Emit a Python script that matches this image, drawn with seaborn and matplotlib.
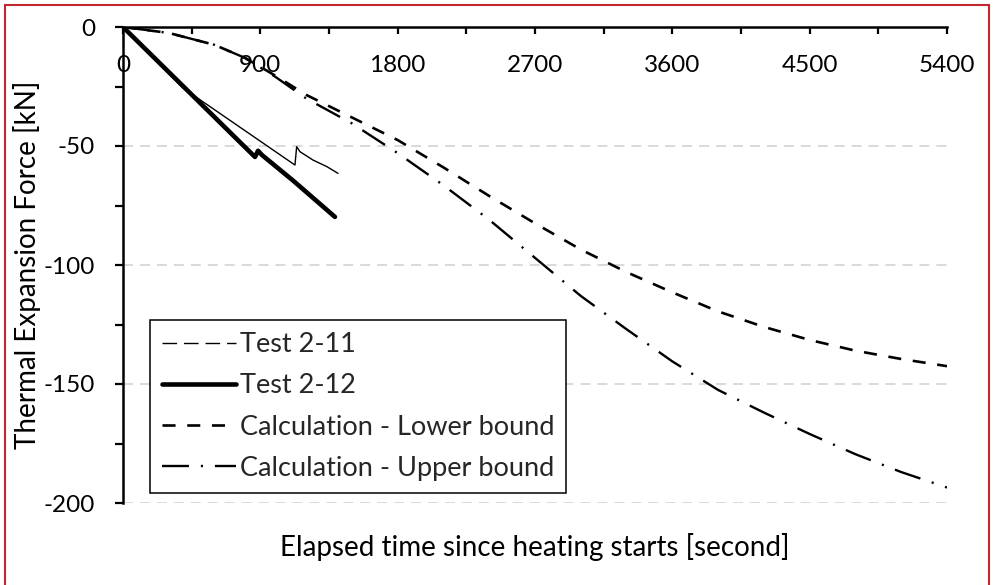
import matplotlib
matplotlib.use("Agg")
import matplotlib.pyplot as plt
import seaborn as sns
import pandas as pd
from matplotlib.lines import Line2D
from matplotlib.patches import Rectangle

# ---- data ----
t11_time = [0, 390, 1127, 1138, 1160, 1245, 1337, 1409]
t11_force = [0, -25.5, -58, -50.3, -52.4, -55.9, -58.7, -61.5]

t12_time = [0, 865, 885, 911, 1114, 1389]
t12_force = [0, -54.6, -52, -53.8, -64.5, -79.8]

calc_time = [0, 300, 600, 800, 1000, 1200, 1500, 1800, 2100, 2400, 2700,
             3000, 3300, 3600, 3900, 4200, 4500, 4800, 5100, 5400]
lower_force = [0, -2.5, -7.5, -13, -20.5, -28.5, -38, -47.5, -59, -71, -82.5,
               -93.5, -103, -111.5, -119.5, -126, -131.5, -136, -139.5, -142.5]
upper_force = [0, -2.5, -7.5, -13, -21, -30, -40.5, -53, -66.5, -81, -97,
               -113, -127, -140.5, -152.5, -162, -171, -179.5, -187, -193.5]

series_names = ["Test 2-11", "Test 2-12", "Calculation - Lower bound", "Calculation - Upper bound"]
x_ticks = [0, 900, 1800, 2700, 3600, 4500, 5400]
y_ticks = [0, -50, -100, -150, -200]
y_tick_labels = ["0", "-50", "-100", "-150", "-200"]

# ---- style ----
sns.set_theme(style="white")
plt.rcParams["font.family"] = ["Lato", "DejaVu Sans"]
plt.rcParams["axes.unicode_minus"] = False
plt.rcParams["lines.scale_dashes"] = False
FS_TICK = 17.5
FS_LAB = 20
FS_LEG = 19.5

fig = plt.figure(figsize=(9.93, 5.85), dpi=100)
ax = fig.add_axes([123 / 993, 1 - 503 / 585, (947 - 123) / 993, (503 - 27) / 585])

DASHED = (9.4, 8.4)
DASHDOT = (19.4, 8.6, 1.5, 8.6)
THIN_DASH = (10.5, 5.0)

sns.lineplot(x=t11_time, y=t11_force, ax=ax, color="black", lw=1.0,
             estimator=None, sort=False, legend=False)
sns.lineplot(x=t12_time, y=t12_force, ax=ax, color="black", lw=3.3,
             estimator=None, sort=False, legend=False, solid_capstyle="round")
sns.lineplot(x=calc_time, y=lower_force, ax=ax, color="black", lw=1.9,
             estimator=None, sort=False, legend=False)
ax.lines[-1].set_dashes(DASHED)
sns.lineplot(x=calc_time, y=upper_force, ax=ax, color="black", lw=1.7,
             estimator=None, sort=False, legend=False)
ax.lines[-1].set_dashes(DASHDOT)

# axes limits / spines
ax.set_xlim(0, 5400)
ax.set_ylim(-200, 0)
ax.spines["bottom"].set_position(("data", 0))
ax.spines["top"].set_visible(False)
ax.spines["right"].set_visible(False)
for s in ("bottom", "left"):
    ax.spines[s].set_linewidth(1.8)
    ax.spines[s].set_color("black")

ax.set_xticks(x_ticks)
ax.set_xticklabels([str(v) for v in x_ticks])
ax.set_xticks([450 + 900 * i for i in range(6)], minor=True)
ax.set_yticks(y_ticks)
ax.set_yticklabels(y_tick_labels)
ax.set_yticks([-25, -75, -125, -175], minor=True)

ax.tick_params(axis="x", which="both", direction="out", length=5, width=1.6,
               bottom=True, top=False, pad=15, labelsize=FS_TICK, colors="black")
ax.tick_params(axis="y", which="both", direction="out", length=6, width=1.6,
               left=True, right=False, pad=14, labelsize=FS_TICK, colors="black")

# grid
for yv in y_ticks[1:]:
    ax.axhline(yv, color="#d9d9d9", lw=1.4, dashes=(7.2, 5.0), zorder=0)

ax.set_xlabel("Elapsed time since heating starts [second]", fontsize=FS_LAB, color="black")
ax.xaxis.set_label_coords(0.5, -0.062)
ax.set_ylabel("Thermal Expansion Force [kN]", fontsize=FS_LAB, color="black")
ax.yaxis.set_label_coords(-0.1, 0.5)

# legend
handles = [
    Line2D([], [], color="black", lw=1.0, dashes=THIN_DASH),
    Line2D([], [], color="black", lw=3.3, solid_capstyle="round"),
    Line2D([], [], color="black", lw=1.9, dashes=DASHED),
    Line2D([], [], color="black", lw=1.7, dashes=DASHDOT),
]
leg = ax.legend(handles, series_names, loc="lower left",
                bbox_to_anchor=(0.033, 0.021), fontsize=FS_LEG, frameon=True,
                fancybox=False, edgecolor="black", framealpha=1,
                handlelength=2.7, handletextpad=0.15, labelspacing=0.6,
                borderpad=0.45, borderaxespad=0)
leg.get_frame().set_linewidth(1.1)

# red outer border
fig.add_artist(Rectangle((5 / 993, -0.01), (989 - 5) / 993, 1 - 5 / 585 + 0.01,
                         transform=fig.transFigure, fill=False,
                         edgecolor="#c0282d", lw=1.5))

fig.savefig("out.png", dpi=100)
